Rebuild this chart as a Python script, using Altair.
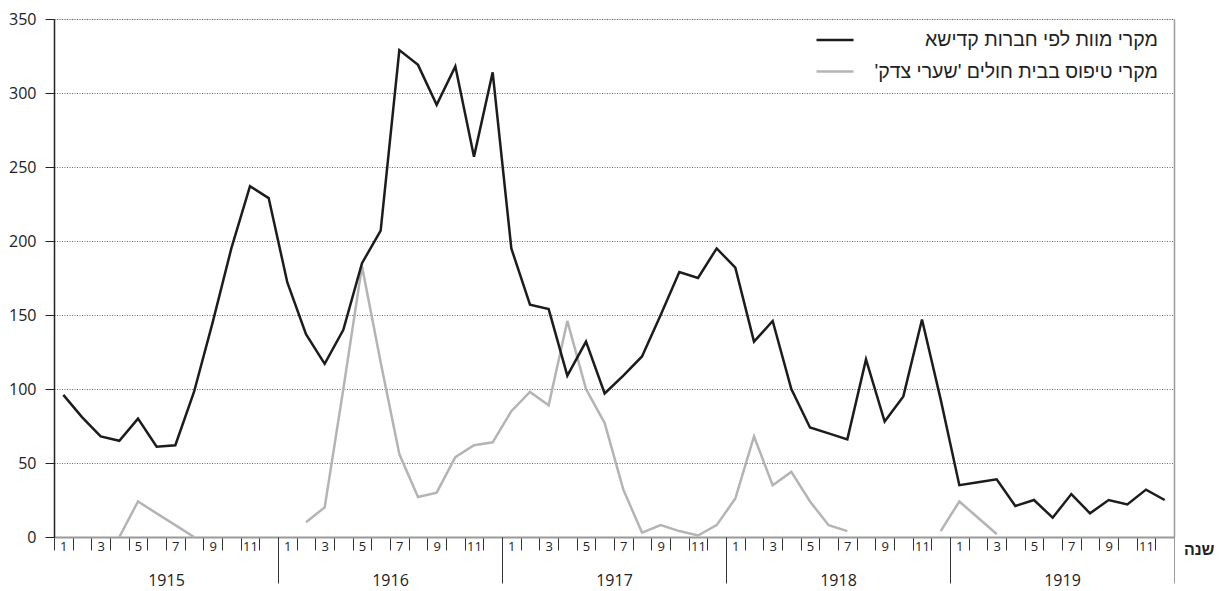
import altair as alt
import pandas as pd

FONT = "Open Sans, DejaVu Sans, sans-serif"
HEB_FONT = "Liberation Sans, DejaVu Sans, sans-serif"

years = [1915, 1916, 1917, 1918, 1919]
month_numbers = list(range(1, 13))

series_names = [
    "מקרי מוות לפי חברות קדישא",
    "מקרי טיפוס בבית חולים 'שערי צדק'\u200F",
]

# monthly values Jan 1915 .. Dec 1919
deaths = [96, 81, 68, 65, 80, 61, 62, 98, 145, 195, 237, 229,
          172, 137, 117, 140, 185, 207, 329, 319, 292, 318, 257, 314,
          195, 157, 154, 109, 132, 97, 109, 122, 150, 179, 175, 195,
          182, 132, 146, 100, 74, 70, 66, 120, 78, 95, 147, 93,
          35, 37, 39, 21, 25, 13, 29, 16, 25, 22, 32, 25]

typhus = [None, None, None, 0, 24, 16, 8, 0, None, None, None, None,
          None, 10, 20, 100, 183, 118, 56, 27, 30, 54, 62, 64,
          85, 98, 89, 146, 100, 77, 32, 3, 8, 4, 1, 8,
          26, 68, 35, 44, 24, 8, 4, None, None, None, None, 4,
          24, 13, 2, None, None, None, None, None, None, None, None, None]

n_months = len(years) * 12

rows_d = [{"t": i + 0.5, "value": v, "series": series_names[0]} for i, v in enumerate(deaths)]
rows_t = []
seg = 0
prev = None
for i, v in enumerate(typhus):
    if v is None:
        prev = None
        continue
    if prev is None:
        seg += 1
    rows_t.append({"t": i + 0.5, "value": v, "series": series_names[1], "seg": f"s{seg}"})
    prev = v
df_d = pd.DataFrame(rows_d)
df_t = pd.DataFrame(rows_t)

xscale = alt.Scale(domain=[0, n_months], nice=False, zero=False)
yscale = alt.Scale(domain=[0, 350], nice=False, zero=True)

color = alt.Color(
    "series:N",
    scale=alt.Scale(domain=series_names, range=["#1c1c1c", "#b4b4b4"]),
    legend=alt.Legend(
        title=None, orient="none", legendX=761, legendY=1,
        symbolType="stroke", symbolSize=1369, symbolStrokeWidth=2.5,
        labelFontSize=19.5, labelAlign="right", labelOffset=303, labelLimit=500,
        labelFont=HEB_FONT, labelColor="#222", rowPadding=1.5, padding=0,
    ),
)

y_axis = alt.Axis(
    orient="left", values=list(range(0, 351, 50)), title=None,
    labelFontSize=16, labelColor="#222", labelPadding=9, labelFont=FONT,
    tickSize=9, tickColor="#222", tickWidth=1,
    domainColor="#222", domainWidth=1.5,
    grid=True, gridColor="#444", gridDash=[1, 1.5], gridWidth=0.8,
)

month_tick_axis = alt.Axis(
    orient="bottom", values=list(range(0, n_months + 1)), labels=False, title=None,
    ticks=True, tickSize=13, tickColor="#333", tickWidth=1,
    domain=True, domainColor="#9a9a9a", domainWidth=2, grid=False,
)

gray = alt.Chart(df_t).mark_line(strokeWidth=2.5, strokeJoin="miter").encode(
    x=alt.X("t:Q", scale=xscale, axis=month_tick_axis),
    y=alt.Y("value:Q", scale=yscale, axis=y_axis),
    color=color,
    detail="seg:N",
)

black = alt.Chart(df_d).mark_line(strokeWidth=2.5, strokeJoin="miter").encode(
    x=alt.X("t:Q", scale=xscale, axis=None),
    y=alt.Y("value:Q", scale=yscale, axis=None),
    color=color,
)

# month labels (odd months)
df_ml = pd.DataFrame({"t": [i + 0.5 for i in range(0, n_months, 2)], "v": 0})
month_label_axis = alt.Axis(
    orient="bottom", values=list(df_ml["t"]), ticks=False, domain=False, grid=False,
    labelExpr="floor(datum.value) % 12 + 1", labelFontSize=13, labelColor="#222",
    labelPadding=3, labelFont=FONT, labelBaseline="top",
    title="שנה", titleX=1160, titleY=12, titleAlign="right", titleBaseline="middle",
    titleFontSize=16, titleFontWeight="bold", titleColor="#222", titleFont=HEB_FONT,
)
month_labels = alt.Chart(df_ml).mark_point(opacity=0).encode(
    x=alt.X("t:Q", scale=xscale, axis=month_label_axis),
)

# year labels
df_yl = pd.DataFrame({"t": [k * 12 + 6 for k in range(len(years))], "v": 0})
year_arr = "[" + ",".join(f"'{y}'" for y in years) + "]"
year_label_axis = alt.Axis(
    orient="bottom", values=list(df_yl["t"]), ticks=False, domain=False, grid=False,
    labelExpr=f"{year_arr}[floor(datum.value / 12)]", labelFontSize=16,
    labelColor="#222", labelPadding=35, labelFont=FONT, labelBaseline="top", title=None,
)
year_labels = alt.Chart(df_yl).mark_point(opacity=0).encode(
    x=alt.X("t:Q", scale=xscale, axis=year_label_axis),
)

# year boundary ticks + right border
df_yt = pd.DataFrame({"t": [k * 12 for k in range(1, len(years) + 1)], "v": 0})
year_tick_axis = alt.Axis(
    orient="bottom", values=list(df_yt["t"]), labels=False, domain=False, grid=False,
    ticks=True, tickSize=46, tickWidth=1,
    tickColor={"condition": {"test": f"datum.value == {n_months}", "value": "#9a9a9a"}, "value": "#333"},
    title=None,
)
right_axis = alt.Axis(
    orient="right", labels=False, ticks=False, grid=False, title=None,
    domainColor="#9a9a9a", domainWidth=1.5, minExtent=0,
)
year_ticks = alt.Chart(df_yt).mark_point(opacity=0).encode(
    x=alt.X("t:Q", scale=xscale, axis=year_tick_axis),
    y=alt.Y("v:Q", scale=yscale, axis=right_axis),
)

chart = alt.layer(gray, black, month_labels, year_labels, year_ticks).resolve_axis(
    x="independent", y="independent"
).properties(
    width=1120, height=518,
    padding={"left": 0, "top": 3, "right": 0, "bottom": 8},
).configure_view(
    fill="#f4f4f4", stroke=None,
).configure(font=FONT)

chart.save("out.html", embed_options={"renderer": "svg", "actions": False})
